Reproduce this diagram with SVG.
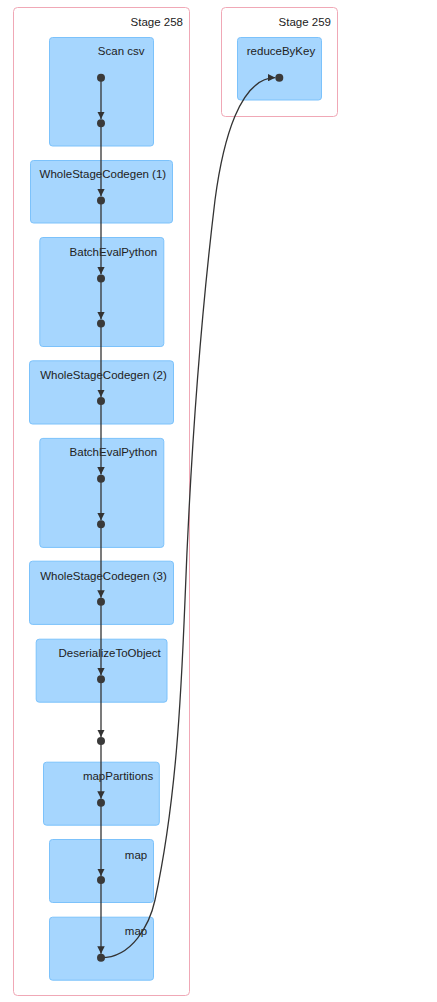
<svg xmlns="http://www.w3.org/2000/svg" width="437" height="1002" viewBox="0 0 437 1002">
  <style>
    .stage rect { fill: #FFFFFF; stroke: #F0A8B6; stroke-width: 1; }
    .node rect { fill: #A6D6FE; stroke: #7CC2FB; stroke-width: 1; }
    text { font-family: "Liberation Sans", Arial, sans-serif; font-size: 11.5px; fill: #222222; text-anchor: end; }
    .edges path { fill: none; stroke: #333333; stroke-width: 1.3; }
    .dots circle { fill: #3A3A3A; }
  </style>
  <defs>
    <marker id="arrow" viewBox="0 0 10 10" refX="10" refY="5" markerWidth="7.5" markerHeight="7.5" markerUnits="userSpaceOnUse" orient="auto">
      <path d="M0,0 L10,5 L0,10 z" fill="#333333"/>
    </marker>
  </defs>

  <!-- stage clusters -->
  <g id="stage-258" class="stage">
    <rect x="13.5" y="7.5" width="176" height="988" rx="4"/>
    <text x="183" y="26">Stage 258</text>
  </g>
  <g id="stage-259" class="stage">
    <rect x="221.5" y="7.5" width="116" height="109" rx="4"/>
    <text x="331" y="26">Stage 259</text>
  </g>

  <!-- operator nodes -->
  <g id="scan-csv" class="node">
    <rect x="49.5" y="37.5" width="104" height="108.5" rx="3"/>
    <text x="144.5" y="55.1">Scan csv</text>
  </g>
  <g id="wholestagecodegen-1" class="node">
    <rect x="30.5" y="160.5" width="142" height="62.5" rx="3"/>
    <text x="166.2" y="177.9">WholeStageCodegen (1)</text>
  </g>
  <g id="batchevalpython-1" class="node">
    <rect x="39.8" y="237.5" width="124" height="109" rx="3"/>
    <text x="157.2" y="256.1">BatchEvalPython</text>
  </g>
  <g id="wholestagecodegen-2" class="node">
    <rect x="29.5" y="360.8" width="144" height="63.2" rx="3"/>
    <text x="166.8" y="379.1">WholeStageCodegen (2)</text>
  </g>
  <g id="batchevalpython-2" class="node">
    <rect x="39.8" y="438.4" width="124" height="109" rx="3"/>
    <text x="157.2" y="456.1">BatchEvalPython</text>
  </g>
  <g id="wholestagecodegen-3" class="node">
    <rect x="29.5" y="561.2" width="144" height="63.2" rx="3"/>
    <text x="166.8" y="579.8">WholeStageCodegen (3)</text>
  </g>
  <g id="deserializetoobject" class="node">
    <rect x="36.2" y="639.2" width="130.8" height="63" rx="3"/>
    <text x="160.8" y="657.1">DeserializeToObject</text>
  </g>
  <g id="mappartitions" class="node">
    <rect x="43.5" y="762.2" width="115.8" height="63" rx="3"/>
    <text x="153.2" y="780.1">mapPartitions</text>
  </g>
  <g id="map-1" class="node">
    <rect x="49.5" y="839.5" width="104" height="63" rx="3"/>
    <text x="147.2" y="858.5">map</text>
  </g>
  <g id="map-2" class="node">
    <rect x="49.5" y="917.2" width="104" height="63" rx="3"/>
    <text x="147.2" y="935.1">map</text>
  </g>
  <g id="reducebykey" class="node">
    <rect x="237.5" y="37.5" width="84" height="62.5" rx="3"/>
    <text x="315.2" y="55.1">reduceByKey</text>
  </g>

  <!-- connectors -->
  <g id="edges" class="edges">
    <path d="M101,77.7 V119" marker-end="url(#arrow)"/>
    <path d="M101,123.2 V196.3" marker-end="url(#arrow)"/>
    <path d="M101,200.4 V274.3" marker-end="url(#arrow)"/>
    <path d="M101,278.4 V319.3" marker-end="url(#arrow)"/>
    <path d="M101,323.4 V397" marker-end="url(#arrow)"/>
    <path d="M101,401 V474.6" marker-end="url(#arrow)"/>
    <path d="M101,478.7 V520.2" marker-end="url(#arrow)"/>
    <path d="M101,524.3 V597.7" marker-end="url(#arrow)"/>
    <path d="M101,601.7 V675.3" marker-end="url(#arrow)"/>
    <path d="M101,679.3 V737" marker-end="url(#arrow)"/>
    <path d="M101,741 V798.7" marker-end="url(#arrow)"/>
    <path d="M101,802.7 V876" marker-end="url(#arrow)"/>
    <path d="M101,880 V953.7" marker-end="url(#arrow)"/>
    <path d="M101,957.7 C132,957.7 149.7,924.5 155,900 C176,802 181,700 185,600 C190,467 199,333 215,200 C223,140 240,77.7 275.3,77.7" marker-end="url(#arrow)"/>
  </g>

  <!-- attachment points -->
  <g id="dots" class="dots">
    <circle cx="101" cy="77.7" r="4"/>
    <circle cx="101" cy="123.2" r="4"/>
    <circle cx="101" cy="200.4" r="4"/>
    <circle cx="101" cy="278.4" r="4"/>
    <circle cx="101" cy="323.4" r="4"/>
    <circle cx="101" cy="401" r="4"/>
    <circle cx="101" cy="478.7" r="4"/>
    <circle cx="101" cy="524.3" r="4"/>
    <circle cx="101" cy="601.7" r="4"/>
    <circle cx="101" cy="679.3" r="4"/>
    <circle cx="101" cy="741" r="4"/>
    <circle cx="101" cy="802.7" r="4"/>
    <circle cx="101" cy="880" r="4"/>
    <circle cx="101" cy="957.7" r="4"/>
    <circle cx="279.3" cy="77.7" r="4"/>
  </g>
</svg>
